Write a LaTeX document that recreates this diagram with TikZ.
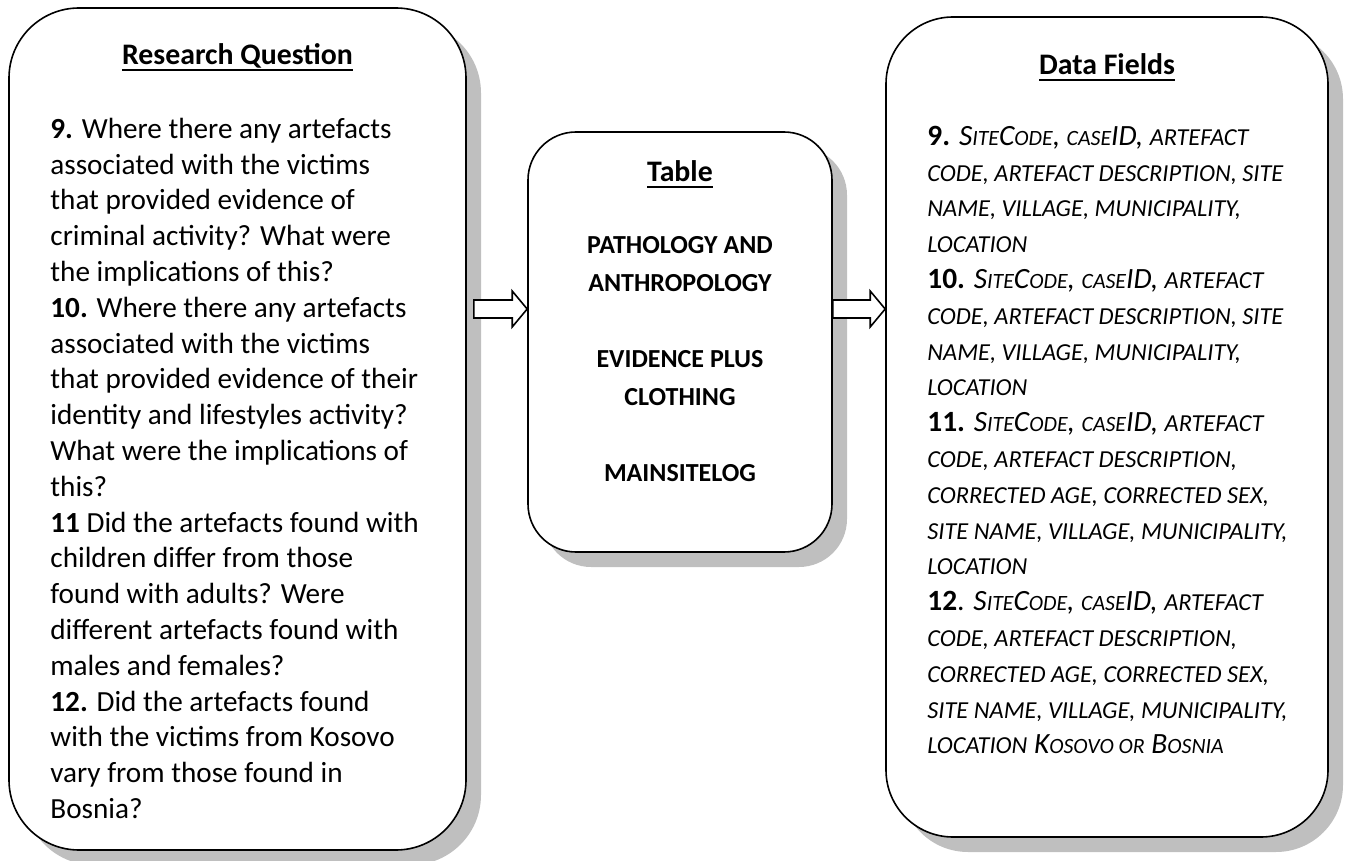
\documentclass[tikz,border=0pt]{standalone}
\usepackage{fontspec}
\setmainfont{Carlito}
\usetikzlibrary{positioning,calc,shadows}
\definecolor{shade}{HTML}{BFBFBF}
\newcommand{\hdr}[1]{\setbox0\hbox{\textbf{#1}}\rlap{\copy0}\rule[-3pt]{\wd0}{0.75pt}}
\newcommand{\smc}[1]{{\fontsize{10.9}{17.9}\selectfont #1}}
\newcommand{\ucs}[1]{{\fontsize{12.2}{17.9}\selectfont #1}}
\newcommand{\num}[1]{\textbf{\upshape #1}}
\newcommand{\blockarrow}[2]{%
  \draw[flowarrow] ($(#1)+(0,-9)$) -- ($(#2)+(-15,-9)$) -- ($(#2)+(-15,-18)$) -- (#2)
    -- ($(#2)+(-15,18)$) -- ($(#2)+(-15,9)$) -- ($(#1)+(0,9)$) -- cycle;}

\begin{document}
\begin{tikzpicture}[x=0.5pt,y=-0.5pt,line join=miter,
  card/.style={draw=black,line width=0.8pt,fill=white,inner sep=0pt,
    drop shadow={shadow xshift=7.5pt,shadow yshift=-7.5pt,fill=shade,opacity=1}},
  flowarrow/.style={draw=black,line width=0.8pt,fill=white},
  heading/.style={anchor=base,inner sep=0pt,font=\fontsize{14.9}{16}\selectfont},
  body/.style={inner sep=0pt,font=\fontsize{14.6}{17.9}\selectfont}]
  \useasboundingbox (0,0) rectangle (1351,861);

  \node[card,rounded corners=35pt,minimum width=228.5pt,minimum height=421pt] (rq) at (237.5,429) {};
  \node[card,rounded corners=24pt,minimum width=152pt,minimum height=210pt] (tbl) at (680,342) {};
  \node[card,rounded corners=33.5pt,minimum width=221pt,minimum height=410pt] (df) at (1107,427) {};

  \node[heading] (rqtitle) at (237.5,65) {\hdr{Research Question}};
  \node[heading] (tbltitle) at (680,182) {\hdr{Table}};
  \node[heading] (dftitle) at (1107,75) {\hdr{Data Fields}};

  \node[body,anchor=north west,align=left] (rqtext) at (50,112.9) {\strut\num{9.} Where there any artefacts\\
    associated with the victims\\
    that provided evidence of\\
    criminal activity? What were\\
    the implications of this?\\
    \num{10.} Where there any artefacts\\
    associated with the victims\\
    that provided evidence of their\\
    identity and lifestyles activity?\\
    What were the implications of\\
    this?\\
    \num{11} Did the artefacts found with\\
    children differ from those\\
    found with adults? Were\\
    different artefacts found with\\
    males and females?\\
    \num{12.} Did the artefacts found\\
    with the victims from Kosovo\\
    vary from those found in\\
    Bosnia?};

  \node[body,anchor=north,align=center,font=\fontsize{13}{19}\selectfont\bfseries] (tbltext) at (680,226.4) {\strut PATHOLOGY AND\\
    ANTHROPOLOGY\\[19pt]
    EVIDENCE PLUS\\
    CLOTHING\\[19pt]
    MAINSITELOG};

  \node[body,anchor=north west,align=left,font=\fontsize{14.7}{17.9}\selectfont\itshape] (dftext) at (927,119.9) {\strut\num{9.} S\smc{ITE}C\smc{ODE}, \smc{CASE}ID, \ucs{ARTEFACT}\\
    \ucs{CODE, ARTEFACT DESCRIPTION, SITE}\\
    \ucs{NAME, VILLAGE, MUNICIPALITY,}\\
    \ucs{LOCATION}\\
    \num{10.} S\smc{ITE}C\smc{ODE}, \smc{CASE}ID, \ucs{ARTEFACT}\\
    \ucs{CODE, ARTEFACT DESCRIPTION, SITE}\\
    \ucs{NAME, VILLAGE, MUNICIPALITY,}\\
    \ucs{LOCATION}\\
    \num{11.} S\smc{ITE}C\smc{ODE}, \smc{CASE}ID, \ucs{ARTEFACT}\\
    \ucs{CODE, ARTEFACT DESCRIPTION,}\\
    \ucs{CORRECTED AGE, CORRECTED SEX,}\\
    \ucs{SITE NAME, VILLAGE, MUNICIPALITY,}\\
    \ucs{LOCATION}\\
    \num{12}\upshape. \itshape S\smc{ITE}C\smc{ODE}, \smc{CASE}ID, \ucs{ARTEFACT}\\
    \ucs{CODE, ARTEFACT DESCRIPTION,}\\
    \ucs{CORRECTED AGE, CORRECTED SEX,}\\
    \ucs{SITE NAME, VILLAGE, MUNICIPALITY,}\\
    \ucs{LOCATION} K\smc{OSOVO OR} B\smc{OSNIA}};

  \coordinate (a1) at ($(rq.east |- 0,309)+(7,0)$);
  \coordinate (a2) at (tbl.east |- 0,309);
  \blockarrow{a1}{tbl.west |- a1}
  \blockarrow{a2}{df.west |- a2}
\end{tikzpicture}
\end{document}
